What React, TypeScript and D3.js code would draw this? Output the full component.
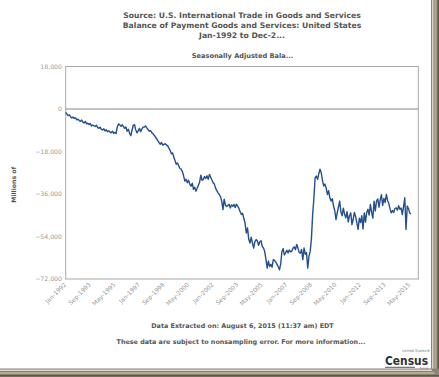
import React from "react";
import * as d3 from "d3";

const titleLines = [
  "Source: U.S. International Trade in Goods and Services",
  "Balance of Payment Goods and Services: United States",
  "Jan-1992 to Dec-2...",
];
const subtitle = "Seasonally Adjusted Bala...";
const yAxisTitle = "Millions of";
const footer1 = "Data Extracted on: August 6, 2015 (11:37 am) EDT";
const footer2 = "These data are subject to nonsampling error. For more information...";

const yTicks = [18000, 0, -18000, -36000, -54000, -72000];
const xTickLabels = [
  "Jan-1992", "Sep-1993", "May-1995", "Jan-1997", "Sep-1998", "May-2000", "Jan-2002",
  "Sep-2003", "May-2005", "Jan-2007", "Sep-2008", "May-2010", "Jan-2012", "Sep-2013", "May-2015",
];
const xTickIndex = [0, 20, 40, 60, 80, 100, 120, 140, 160, 180, 200, 220, 240, 260, 280];

// Monthly balance (millions of dollars), Jan-1992 .. Jun-2015
const y1992 = [-1500, -2200, -2800, -2500, -3300, -3800, -3400, -4000, -3700, -4600, -4300, -4900];
const y1993 = [-5200, -4700, -5600, -5900, -5300, -6300, -6000, -6600, -6100, -7200, -6800, -7100];
const y1994 = [-7400, -6900, -7800, -8200, -7700, -8600, -8900, -8400, -9300, -8800, -9600, -9200];
const y1995 = [-9700, -10100, -9400, -10300, -9900, -10400, -7600, -6300, -6800, -7300, -6700, -7400];
const y1996 = [-8200, -7600, -9400, -8600, -10200, -11300, -9000, -6900, -6600, -8800, -10100, -9300];
const y1997 = [-8200, -9600, -8500, -7700, -7600, -7200, -8000, -8700, -9400, -9100, -10000, -10400];
const y1998 = [-11100, -11800, -12600, -13400, -14300, -14900, -14200, -15300, -15000, -14700, -15200, -15600];
const y1999 = [-16600, -17500, -19000, -18600, -20400, -21800, -23400, -22900, -24100, -25200, -25500, -26500];
const y2000 = [-28400, -30500, -29800, -31200, -30200, -31800, -32700, -31400, -34000, -33100, -34800, -33600];
const y2001 = [-32300, -31000, -28000, -30200, -29800, -28600, -29400, -28300, -29800, -27700, -28900, -30100];
const y2002 = [-31200, -31800, -33500, -34600, -35500, -36300, -37100, -39000, -42600, -38200, -40700, -41300];
const y2003 = [-40800, -40400, -41900, -40600, -41200, -40400, -41700, -40300, -41100, -42100, -43500, -44700];
const y2004 = [-44200, -46400, -48300, -52500, -50400, -55200, -56800, -54300, -56800, -58900, -56200, -55300];
const y2005 = [-55900, -57700, -56200, -55800, -58300, -58900, -60400, -63700, -67400, -64400, -66700, -65800];
const y2006 = [-67000, -63800, -64100, -64800, -65800, -66800, -68100, -65600, -60400, -59100, -61800, -60900];
const y2007 = [-59800, -61000, -59700, -60500, -60200, -59000, -58400, -59600, -57400, -58800, -60700, -61000];
const y2008 = [-59500, -63800, -58900, -61500, -60800, -67400, -62300, -60300, -55000, -44700, -38000, -29100];
const y2009 = [-28400, -29800, -27400, -25500, -27000, -30200, -32600, -31800, -33500, -36200, -34600, -37600];
const y2010 = [-39000, -38000, -41100, -43000, -46800, -44000, -41500, -39000, -43500, -45200, -42000, -44600];
const y2011 = [-46100, -43500, -47800, -45200, -44000, -49000, -46700, -43800, -45600, -48300, -51000, -46200];
const y2012 = [-48100, -45200, -50800, -44000, -47900, -43800, -42500, -44900, -40400, -43700, -46200, -39000];
const y2013 = [-43200, -39000, -38100, -41600, -38500, -36300, -40800, -37900, -39600, -36200, -38700, -40100];
const y2014 = [-42300, -44000, -43000, -43800, -42100, -41900, -42800, -41000, -42500, -41900, -44700, -41300];
const y2015 = [-37600, -51000, -41100, -42200, -44000, -44500];

const balance = [
  ...y1992, ...y1993, ...y1994, ...y1995, ...y1996, ...y1997, ...y1998, ...y1999,
  ...y2000, ...y2001, ...y2002, ...y2003, ...y2004, ...y2005, ...y2006, ...y2007,
  ...y2008, ...y2009, ...y2010, ...y2011, ...y2012, ...y2013, ...y2014, ...y2015,
];

const W = 439;
const H = 377;
const plot = { left: 65.7, right: 418.3, top: 66.5, bottom: 279 };
const font = "'DejaVu Sans', Verdana, sans-serif";

export default function App() {
  const x = d3.scaleLinear().domain([0, 287]).range([plot.left, plot.right]);
  const y = d3.scaleLinear().domain([-72000, 18000]).range([plot.bottom, plot.top]);
  const line = d3
    .line<number>()
    .x((_, i) => x(i))
    .y((d) => y(d));

  return (
    <svg
      width={W}
      height={H}
      style={{ position: "absolute", left: 0, top: 0, background: "#fff" }}
      fontFamily={font}
    >
      <rect x={0} y={0} width={W} height={H} fill="#fff" />
      {/* frame shadow right & bottom */}
      <rect x={431} y={0} width={8} height={H} fill="#8a8377" />
      <rect x={432} y={0} width={1.5} height={H} fill="#d9d5cc" />
      <rect x={434.5} y={0} width={2} height={H} fill="#b8a98a" />
      <rect x={437.5} y={0} width={1.5} height={H} fill="#5e584f" />
      <rect x={0} y={368.5} width={439} height={8.5} fill="#8a8377" />
      <rect x={0} y={369.5} width={432} height={1.5} fill="#d9d5cc" />
      <rect x={0} y={372} width={434.5} height={2} fill="#b8a98a" />
      <rect x={0} y={375} width={439} height={1.5} fill="#5e584f" />

      {titleLines.map((t, i) => (
        <text key={i} x={242} y={18 + i * 10} textAnchor="middle" fontSize={7.7} fontWeight="bold" fill="#555">
          {t}
        </text>
      ))}
      <text x={242.5} y={57.5} textAnchor="middle" fontSize={6.6} fontWeight="bold" fill="#555">
        {subtitle}
      </text>

      {/* plot border */}
      <rect
        x={plot.left}
        y={plot.top}
        width={plot.right - plot.left}
        height={plot.bottom - plot.top}
        fill="none"
        stroke="#a8a8a8"
        strokeWidth={1}
      />
      <line x1={plot.left} x2={plot.right} y1={y(0)} y2={y(0)} stroke="#888" strokeWidth={1} />

      {yTicks.map((t) => (
        <text key={t} x={62} y={y(t) + 2} textAnchor="end" fontSize={6.2} fill="#999">
          {d3.format(",")(t)}
        </text>
      ))}

      <text
        transform={`translate(16,${(plot.top + plot.bottom) / 2 + 12}) rotate(-90)`}
        textAnchor="middle"
        fontSize={6.2}
        fontWeight="bold"
        fill="#555"
      >
        {yAxisTitle}
      </text>

      {xTickIndex.map((idx, i) => (
        <text
          key={idx}
          transform={`translate(${x(idx) + 1},${plot.bottom + 6}) rotate(-45)`}
          textAnchor="end"
          fontSize={6}
          fill="#999"
        >
          {xTickLabels[i]}
        </text>
      ))}

      <path d={line(balance) || ""} fill="none" stroke="#234f8c" strokeWidth={1.4} strokeLinejoin="round" />

      <text x={242.5} y={328} textAnchor="middle" fontSize={6.4} fontWeight="bold" fill="#555">
        {footer1}
      </text>
      <text x={241} y={344} textAnchor="middle" fontSize={6.4} fontWeight="bold" fill="#555">
        {footer2}
      </text>

      {/* Census logo */}
      <text x={430} y={352} textAnchor="end" fontSize={3.6} fill="#777">
        United States®
      </text>
      <text x={385} y={365} fontSize={12.5} fontWeight="bold" fill="#333" textLength={43} lengthAdjust="spacingAndGlyphs" fontFamily="'Liberation Sans Narrow', 'DejaVu Sans Condensed', sans-serif">
        Census
      </text>
      <line x1={385} x2={415} y1={367.3} y2={367.3} stroke="#555" strokeWidth={1} />
      <text x={429} y={368.6} textAnchor="end" fontSize={2.6} fill="#777">
        Bureau
      </text>
    </svg>
  );
}
